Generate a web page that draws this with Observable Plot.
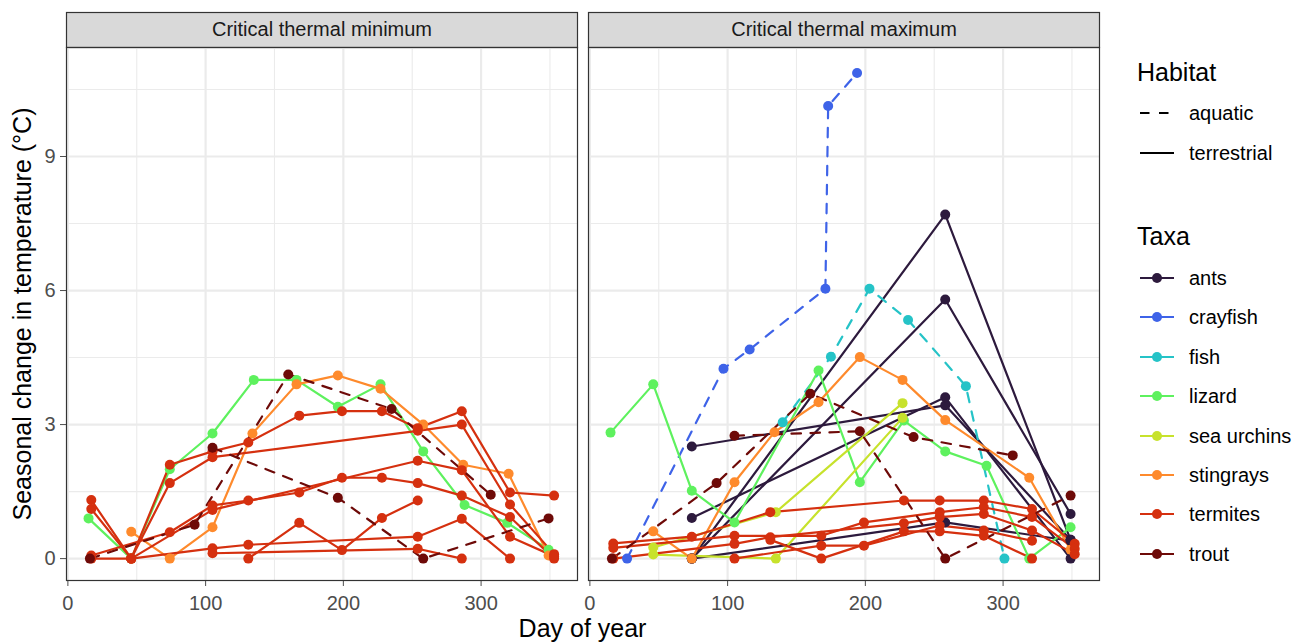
<!DOCTYPE html>
<html>
<head>
<meta charset="utf-8">
<script src="https://cdn.jsdelivr.net/npm/d3@7"></script>
<script src="https://cdn.jsdelivr.net/npm/@observablehq/plot@0.6"></script>
<style>
  body { margin: 0; background: #fff; font-family: "Liberation Sans", Arial, sans-serif; }
  #wrap { position: relative; width: 1302px; height: 644px; overflow: hidden; }
  .abs { position: absolute; white-space: nowrap; transform: translateY(-50%); line-height: 1; }
</style>
</head>
<body>
<div id="wrap"></div>
<script>
// ---------- categories ----------
const facetNames = ["Critical thermal minimum", "Critical thermal maximum"];
const taxa = ["ants", "crayfish", "fish", "lizard", "sea urchins", "stingrays", "termites", "trout"];
const taxaColors = ["#2D1A3D", "#3E63E8", "#25C3C7", "#5EF15E", "#C7E22C", "#FE8A2C", "#D5300F", "#6E0A08"];
const habitats = ["aquatic", "terrestrial"];
const xTicks = [0, 100, 200, 300];
const xMinorTicks = [50, 150, 250, 350];
const yTicks = [0, 3, 6, 9];
const yMinorTicks = [1.5, 4.5, 7.5, 10.5];
const xLabel = "Day of year";
const yLabel = "Seasonal change in temperature (°C)";

// ---------- series: [taxon, habitat, days, values] ----------
const ctminSeries = [
  ["lizard", "terrestrial", [15, 46, 74, 105, 135, 166, 196, 227, 258, 288, 319, 349], [0.9, 0, 2.0, 2.8, 4.0, 4.0, 3.4, 3.9, 2.4, 1.2, 0.8, 0.2]],
  ["stingrays", "terrestrial", [46, 74, 105, 134, 166, 196, 227, 258, 287, 320, 349], [0.6, 0, 0.7, 2.8, 3.9, 4.1, 3.8, 3.0, 2.1, 1.9, 0.07]],
  ["termites", "terrestrial", [17, 46, 74, 105, 131, 168, 199, 228, 254, 286, 321, 353], [1.31, 0, 2.10, 2.40, 2.60, 3.20, 3.30, 3.30, 2.92, 3.30, 1.48, 1.41]],
  ["termites", "terrestrial", [17, 46, 74, 105, 254, 286, 321, 353], [1.11, 0, 1.69, 2.27, 2.86, 3.00, 1.21, 0.10]],
  ["termites", "terrestrial", [17, 74, 105, 131, 168, 199, 228, 254, 286, 321, 353], [0.07, 0.59, 1.19, 1.30, 1.48, 1.81, 1.81, 1.69, 1.41, 0.93, 0]],
  ["termites", "terrestrial", [17, 46, 105, 254, 286, 321, 353], [0, 0, 1.09, 2.19, 1.98, 0.49, 0.05]],
  ["termites", "terrestrial", [46, 105, 131, 254, 286, 321], [0, 0.23, 0.31, 0.49, 0.89, 0]],
  ["termites", "terrestrial", [105, 254, 286], [0.12, 0.22, 0]],
  ["termites", "terrestrial", [131, 168, 199, 228, 254], [0, 0.80, 0.19, 0.91, 1.30]],
  ["trout", "aquatic", [16, 92, 160, 235, 307], [0, 0.76, 4.12, 3.35, 1.43]],
  ["trout", "aquatic", [105, 196, 258, 349], [2.48, 1.36, 0, 0.9]]
];

const ctmaxSeries = [
  ["ants", "terrestrial", [74, 258, 349], [2.51, 3.43, 0.42]],
  ["ants", "terrestrial", [74, 258, 349], [0.91, 3.61, 0]],
  ["ants", "terrestrial", [74, 258, 349], [0, 7.70, 0.42]],
  ["ants", "terrestrial", [74, 258, 349], [0, 5.80, 1.0]],
  ["ants", "terrestrial", [74, 258, 349], [0, 0.81, 0.4]],
  ["crayfish", "aquatic", [27, 97, 116, 171, 173, 194], [0, 4.25, 4.68, 6.04, 10.13, 10.87]],
  ["fish", "aquatic", [140, 175, 203, 231, 273, 301], [3.05, 4.52, 6.04, 5.34, 3.86, 0]],
  ["lizard", "terrestrial", [15, 46, 74, 105, 166, 196, 228, 258, 288, 319, 349], [2.82, 3.9, 1.52, 0.81, 4.21, 1.71, 3.09, 2.40, 2.08, 0, 0.70]],
  ["sea urchins", "terrestrial", [46, 135, 227], [0.25, 1.04, 3.48]],
  ["sea urchins", "terrestrial", [46, 135, 227], [0.09, 0, 3.15]],
  ["stingrays", "terrestrial", [46, 74, 105, 134, 166, 196, 227, 258, 319, 349], [0.61, 0, 1.71, 2.83, 3.50, 4.51, 4.0, 3.10, 1.81, 0.2]],
  ["termites", "terrestrial", [17, 74, 131, 228, 254, 286, 321, 352], [0.34, 0.49, 1.04, 1.30, 1.30, 1.30, 1.11, 0.33]],
  ["termites", "terrestrial", [17, 105, 168, 199, 254, 286, 321, 352], [0.24, 0.51, 0.51, 0.81, 1.04, 1.15, 0.93, 0.22]],
  ["termites", "terrestrial", [17, 105, 131, 228, 254, 286, 321, 352], [0, 0.33, 0.48, 0.79, 0.93, 1.0, 0.63, 0.10]],
  ["termites", "terrestrial", [105, 168, 199, 254, 286, 321], [0, 0.29, 0.29, 0.74, 0.63, 0.4]],
  ["termites", "terrestrial", [131, 168, 228, 254, 286, 321], [0.42, 0, 0.61, 0.61, 0.51, 0]],
  ["trout", "aquatic", [16, 92, 160, 235, 307], [0, 1.69, 3.69, 2.72, 2.31]],
  ["trout", "aquatic", [105, 196, 258, 349], [2.75, 2.85, 0, 1.41]]
];

// ---------- build table ----------
const series = [];
const rows = [];
[ctminSeries, ctmaxSeries].forEach((list, fi) => {
  list.forEach((s, si) => {
    const id = fi + "-" + si;
    const pts = s[2].map((d, i) => ({facet: facetNames[fi], id, taxon: s[0], habitat: s[1], day: d, value: s[3][i]}));
    series.push({taxon: s[0], habitat: s[1], pts});
    rows.push(...pts);
  });
});
series.sort((a, b) => taxa.indexOf(a.taxon) - taxa.indexOf(b.taxon));
rows.sort((a, b) => taxa.indexOf(a.taxon) - taxa.indexOf(b.taxon));

// ---------- layout ----------
const W = 1110, H = 644;
const mT = 47, mB = 64, mL = 66, mR = 11;
const panelH = H - mT - mB;
const gap = 11;
const bandTotal = W - mL - mR;
const pInner = 2 * gap / (bandTotal + gap);
const dashFor = h => h === habitats[0] ? "9.5,9.5" : undefined;
const grid = "#EBEBEB";

const marks = [
  Plot.frame({fill: "#D9D9D9", stroke: "#333333", strokeWidth: 1.2, insetTop: -35, insetBottom: panelH}),
  Plot.text(facetNames, {fx: d => d, text: d => d, frameAnchor: "top", lineAnchor: "middle", dy: -17.5, fontSize: 20, fill: "#1A1A1A"}),
  Plot.ruleX(xMinorTicks, {stroke: grid, strokeWidth: 1.1}),
  Plot.ruleY(yMinorTicks, {stroke: grid, strokeWidth: 1.1}),
  Plot.ruleX(xTicks, {stroke: grid, strokeWidth: 2.2}),
  Plot.ruleY(yTicks, {stroke: grid, strokeWidth: 2.2}),
  ...series.map(s => Plot.line(s.pts, {
    x: "day", y: "value", fx: "facet", stroke: "taxon", strokeWidth: 2.2,
    ...(dashFor(s.habitat) ? {strokeDasharray: dashFor(s.habitat)} : {})
  })),
  Plot.dot(rows, {x: "day", y: "value", fx: "facet", fill: "taxon", r: 5}),
  Plot.frame({stroke: "#333333", strokeWidth: 1.2})
];

const chart = Plot.plot({
  width: W, height: H,
  marginTop: mT, marginBottom: mB, marginLeft: mL, marginRight: mR,
  style: {fontFamily: "'Liberation Sans', Arial, sans-serif", fontSize: "20px", color: "#4D4D4D", background: "white", overflow: "visible"},
  fx: {domain: facetNames, axis: null, label: null, paddingInner: pInner, paddingOuter: 0},
  x: {domain: [-1, 370], ticks: xTicks, tickSize: 6, tickPadding: 9, label: null},
  y: {domain: [-0.49, 11.44], ticks: yTicks, tickSize: 6, tickPadding: 5, label: null},
  color: {domain: taxa, range: taxaColors},
  marks
});

const wrap = document.getElementById("wrap");
chart.style.position = "absolute";
chart.style.left = "0px";
chart.style.top = "0px";
wrap.appendChild(chart);

// ---------- axis titles ----------
function addText(txt, left, top, size, color, extra) {
  const d = document.createElement("div");
  d.className = "abs";
  d.textContent = txt;
  d.style.left = left + "px";
  d.style.top = top + "px";
  d.style.fontSize = size + "px";
  d.style.color = color;
  if (extra) Object.assign(d.style, extra);
  wrap.appendChild(d);
  return d;
}
addText(xLabel, (mL + W - mR) / 2, 628, 25, "#000", {transform: "translate(-50%,-50%)"});
addText(yLabel, 22, mT + panelH / 2, 25, "#000", {transform: "translate(-50%,-50%) rotate(-90deg)"});

// ---------- legend ----------
const legX = 1139, keyW = 36, labX = 1189;
function key(top, color, dashed, dot) {
  const ns = "http://www.w3.org/2000/svg";
  const svg = document.createElementNS(ns, "svg");
  svg.setAttribute("width", keyW);
  svg.setAttribute("height", 20);
  svg.style.position = "absolute";
  svg.style.left = legX + "px";
  svg.style.top = (top - 10) + "px";
  const l = document.createElementNS(ns, "line");
  l.setAttribute("x1", 1); l.setAttribute("x2", keyW - 1);
  l.setAttribute("y1", 10); l.setAttribute("y2", 10);
  l.setAttribute("stroke", color); l.setAttribute("stroke-width", 2.2);
  if (dashed) l.setAttribute("stroke-dasharray", "9.5,9.5");
  svg.appendChild(l);
  if (dot) {
    const c = document.createElementNS(ns, "circle");
    c.setAttribute("cx", keyW / 2); c.setAttribute("cy", 10); c.setAttribute("r", 5);
    c.setAttribute("fill", color);
    svg.appendChild(c);
  }
  wrap.appendChild(svg);
}
addText("Habitat", 1137, 72, 25, "#000");
const habY = [113, 153];
habitats.forEach((h, i) => {
  key(habY[i], "#000", h === habitats[0], false);
  addText(h, labX, habY[i], 20, "#000");
});
addText("Taxa", 1137, 236, 25, "#000");
taxa.forEach((t, i) => {
  const y = 278 + i * 39.4;
  key(y, taxaColors[i], false, true);
  addText(t, labX, y, 20, "#000");
});
</script>
</body>
</html>
